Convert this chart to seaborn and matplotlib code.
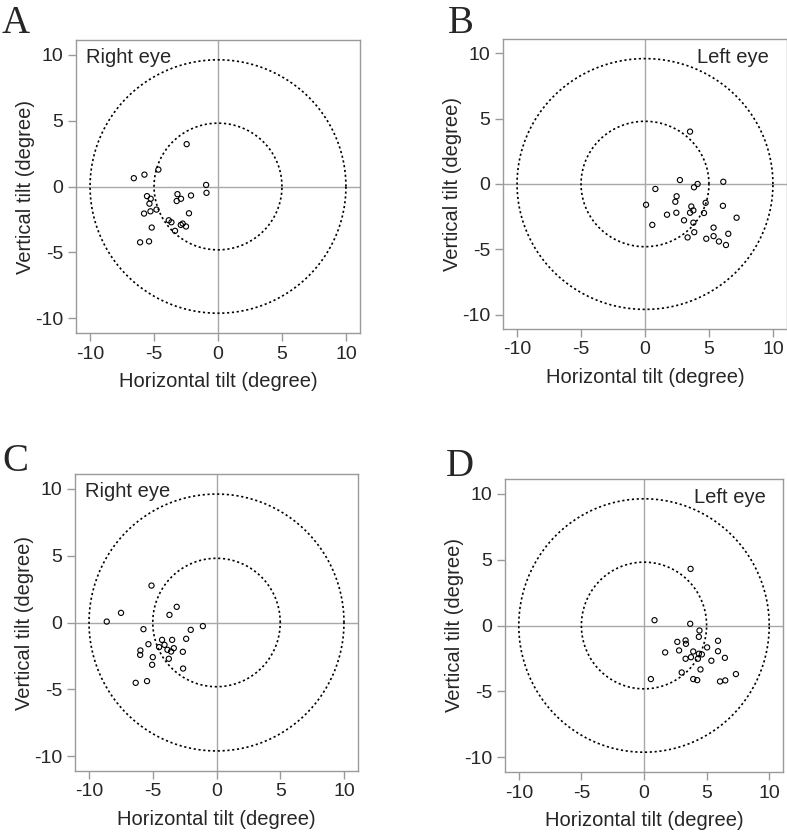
import numpy as np
import pandas as pd
import matplotlib
matplotlib.use("Agg")
import matplotlib.pyplot as plt
import seaborn as sns

# ---- data (degrees) ----
a_x = [-2.45, -6.58, -5.75, -4.66, -0.93, -0.90, -5.55, -5.26, -5.36, -5.78, -5.28, -4.81, -3.17,
       -3.23, -2.89, -2.11, -2.27, -3.85, -3.64, -5.18, -2.91, -2.76, -2.50, -3.36, -6.09, -5.39]
a_y = [3.21, 0.63, 0.90, 1.28, 0.12, -0.48, -0.73, -0.93, -1.30, -2.05, -1.88, -1.75, -0.58,
       -1.10, -0.93, -0.68, -2.03, -2.56, -2.71, -3.11, -2.91, -2.81, -3.03, -3.36, -4.23, -4.16]

b_x = [3.52, 2.73, 4.11, 3.83, 6.12, 0.81, 2.47, 2.37, 0.08, 4.74, 6.09, 3.62, 3.78, 3.52, 2.45,
       1.72, 4.61, 7.16, 3.05, 3.78, 0.57, 5.36, 3.85, 6.51, 3.33, 4.79, 5.36, 5.78, 6.33]
b_y = [4.01, 0.30, 0.00, -0.25, 0.17, -0.38, -0.94, -1.36, -1.59, -1.44, -1.67, -1.72, -2.02,
       -2.20, -2.20, -2.35, -2.22, -2.58, -2.78, -2.96, -3.13, -3.34, -3.69, -3.81, -4.09, -4.19,
       -3.99, -4.40, -4.67]

c_x = [-5.10, -7.49, -8.61, -3.12, -3.69, -5.73, -2.02, -1.07, -5.34, -4.27, -3.48, -2.38, -4.50,
       -4.08, -3.85, -3.56, -3.35, -2.64, -5.97, -5.99, -5.00, -3.74, -5.05, -2.62, -6.34, -5.45]
c_y = [2.76, 0.72, 0.07, 1.17, 0.57, -0.50, -0.55, -0.27, -1.62, -1.30, -1.30, -1.22, -1.84,
       -1.67, -2.04, -2.17, -1.92, -2.19, -2.09, -2.42, -2.59, -2.71, -3.16, -3.44, -4.51, -4.38]

d_x = [3.72, 0.84, 3.69, 4.43, 4.38, 5.91, 2.66, 3.32, 3.35, 5.04, 1.69, 2.80, 3.93, 5.91, 4.38,
       4.62, 3.75, 3.32, 4.30, 5.38, 6.46, 4.51, 3.01, 3.93, 4.25, 0.55, 6.07, 6.49, 7.34]
d_y = [4.29, 0.40, 0.13, -0.38, -0.86, -1.16, -1.24, -1.13, -1.39, -1.66, -2.04, -1.89, -1.97,
       -1.95, -2.14, -2.19, -2.40, -2.52, -2.52, -2.67, -2.45, -3.33, -3.56, -4.06, -4.14, -4.06,
       -4.24, -4.16, -3.68]

panel_letters = ["A", "B", "C", "D"]
eye_labels = ["Right eye", "Left eye", "Right eye", "Left eye"]
ring_radii = [5, 10]
tick_vals = [-10, -5, 0, 5, 10]

sns.set_style("white")
plt.rcParams['font.family'] = ['Liberation Sans', 'DejaVu Sans']

fig = plt.figure(figsize=(7.87, 8.33), dpi=100)
W, H = 787, 833
# axes boxes in pixels: left, top, right, bottom
boxes = [(76, 40, 360, 333), (503, 39, 787, 329), (75, 474, 358, 771), (505, 479, 783, 772)]
letter_pos = [(2, 33), (448, 33), (2, 471), (446, 476)]

grey = "#9a9a9a"
theta = np.linspace(0, 2 * np.pi, 500)

panels = [(a_x, a_y), (b_x, b_y), (c_x, c_y), (d_x, d_y)]
for i, (xs, ys) in enumerate(panels):
    l, t, r, b = boxes[i]
    ax = fig.add_axes([l / W, 1 - b / H, (r - l) / W, (b - t) / H])
    df = pd.DataFrame({"x": xs, "y": ys})

    ax.axhline(0, color="#a8a8a8", lw=1.0, zorder=1)
    ax.axvline(0, color="#a8a8a8", lw=1.0, zorder=1)
    for rad in ring_radii:
        ax.plot(rad * np.cos(theta), 0.96 * rad * np.sin(theta), color="black",
                lw=1.2, linestyle=(0, (1.3, 1.6)), zorder=2)

    sns.scatterplot(data=df, x="x", y="y", ax=ax, marker="o", s=14,
                    facecolor="none", edgecolor="black", linewidth=0.8, zorder=3)

    ax.set_xlim(-11.1, 11.1)
    ax.set_ylim(-11.1, 11.1)
    ax.set_xticks(tick_vals)
    ax.set_yticks(tick_vals)
    ax.set_xticklabels([str(v) for v in tick_vals])
    ax.set_yticklabels([str(v) for v in tick_vals])
    ax.tick_params(axis="both", which="both", direction="out", length=6, width=1,
                   color=grey, labelsize=14, pad=3, bottom=True, left=True)
    for sp in ax.spines.values():
        sp.set_color(grey)
        sp.set_linewidth(1.0)
    ax.set_xlabel("Horizontal tilt (degree)", fontsize=14.5, labelpad=7)
    ax.set_ylabel("Vertical tilt (degree)", fontsize=14.5, labelpad=0)

    if i % 2 == 0:
        ax.text(-10.3, 9.8, eye_labels[i], fontsize=14.5, ha="left", va="center")
    else:
        ax.text(9.7, 9.7, eye_labels[i], fontsize=14.5, ha="right", va="center")

    lx, ly = letter_pos[i]
    fig.text(lx / W, 1 - ly / H, panel_letters[i], fontsize=28, family="Liberation Serif",
             ha="left", va="baseline")

plt.savefig("out.png", dpi=100)
